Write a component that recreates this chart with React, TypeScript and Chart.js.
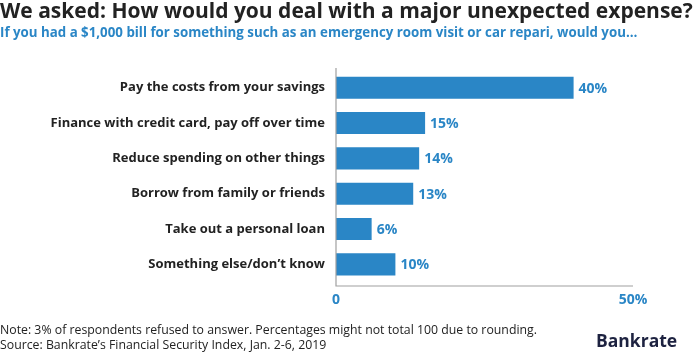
import React, { useEffect, useRef } from "react";
import { Chart, registerables } from "chart.js";

Chart.register(...registerables);

const categories: string[] = [
  "Pay the costs from your savings",
  "Finance with credit card, pay off over time",
  "Reduce spending on other things",
  "Borrow from family or friends",
  "Take out a personal loan",
  "Something else/don\u2019t know",
];
const values: number[] = [40, 15, 14, 13, 6, 10];
const xTicks: number[] = [0, 50];

const titleText = "We asked: How would you deal with a major unexpected expense?";
const subtitleText =
  "If you had a $1,000 bill for something such as an emergency room visit or car repari, would you\u2026";
const noteText =
  "Note: 3% of respondents refused to answer. Percentages might not total 100 due to rounding.";
const sourceText = "Source: Bankrate\u2019s Financial Security Index, Jan. 2-6, 2019";
const brandText = "Bankrate";

const BLUE = "#2a86c6";
const DARK = "#222222";
const FONT = "'Open Sans', sans-serif";

const decorPlugin = {
  id: "decor",
  afterDatasetsDraw(chart: any) {
    const { ctx, chartArea } = chart;
    const meta = chart.getDatasetMeta(0);
    ctx.save();
    ctx.font = `700 14px ${FONT}`;
    ctx.fillStyle = BLUE;
    ctx.textAlign = "left";
    ctx.textBaseline = "middle";
    meta.data.forEach((bar: any, i: number) => {
      ctx.fillText(values[i] + "%", bar.x + 5, bar.y + 1);
    });
    ctx.strokeStyle = "#a0a0a0";
    ctx.lineWidth = 1.2;
    ctx.beginPath();
    ctx.moveTo(chartArea.left, chartArea.top - 2);
    ctx.lineTo(chartArea.left, chartArea.bottom + 4);
    ctx.lineTo(chartArea.right, chartArea.bottom + 4);
    ctx.stroke();
    ctx.restore();
  },
  afterDraw(chart: any) {
    const { ctx } = chart;
    ctx.save();
    ctx.textAlign = "left";
    ctx.textBaseline = "middle";
    ctx.fillStyle = DARK;
    ctx.font = `700 21px ${FONT}`;
    ctx.fillText(titleText, 0, 12);
    ctx.fillStyle = BLUE;
    ctx.font = `700 13.3px ${FONT}`;
    ctx.fillText(subtitleText, 0, 33);
    ctx.fillStyle = DARK;
    ctx.font = `400 12.3px ${FONT}`;
    ctx.fillText(noteText, 0, 330);
    ctx.fillText(sourceText, 0, 345);
    ctx.fillStyle = "#1d2240";
    ctx.font = `700 17.5px ${FONT}`;
    ctx.fillText(brandText, 596, 342);
    ctx.restore();
  },
};

export default function App() {
  const ref = useRef<HTMLCanvasElement | null>(null);
  useEffect(() => {
    if (!ref.current) return;
    const chart = new Chart(ref.current, {
      type: "bar",
      data: {
        labels: categories,
        datasets: [
          {
            data: values,
            backgroundColor: BLUE,
            borderWidth: 0,
            barPercentage: 0.625,
            categoryPercentage: 1,
          },
        ],
      },
      options: {
        indexAxis: "y",
        animation: false,
        responsive: false,
        maintainAspectRatio: false,
        layout: { padding: { left: 0, top: 70, right: 67, bottom: 44 } },
        plugins: { legend: { display: false }, tooltip: { enabled: false }, title: { display: false } },
        scales: {
          x: {
            min: 0,
            max: 50,
            afterBuildTicks: (scale: any) => {
              scale.ticks = xTicks.map((v) => ({ value: v }));
            },
            afterFit: (scale: any) => {
              scale.height = 30;
            },
            grid: { display: false, drawTicks: false },
            border: { display: false },
            ticks: {
              padding: 10,
              maxRotation: 0,
              color: BLUE,
              font: { family: FONT, weight: "bold", size: 14 },
              callback: (v: any) => (Number(v) === 0 ? "0" : v + "%"),
            },
          },
          y: {
            afterFit: (scale: any) => {
              scale.width = 336;
            },
            grid: { display: false, drawTicks: false },
            border: { display: false },
            ticks: {
              padding: 11,
              color: DARK,
              font: { family: FONT, weight: "bold", size: 13 },
            },
          },
        },
      },
      plugins: [decorPlugin],
    });
    return () => chart.destroy();
  }, []);
  return (
    <div style={{ position: "absolute", left: 0, top: 0, width: 700, height: 356, background: "#fff" }}>
      <canvas ref={ref} width={700} height={356} />
    </div>
  );
}
